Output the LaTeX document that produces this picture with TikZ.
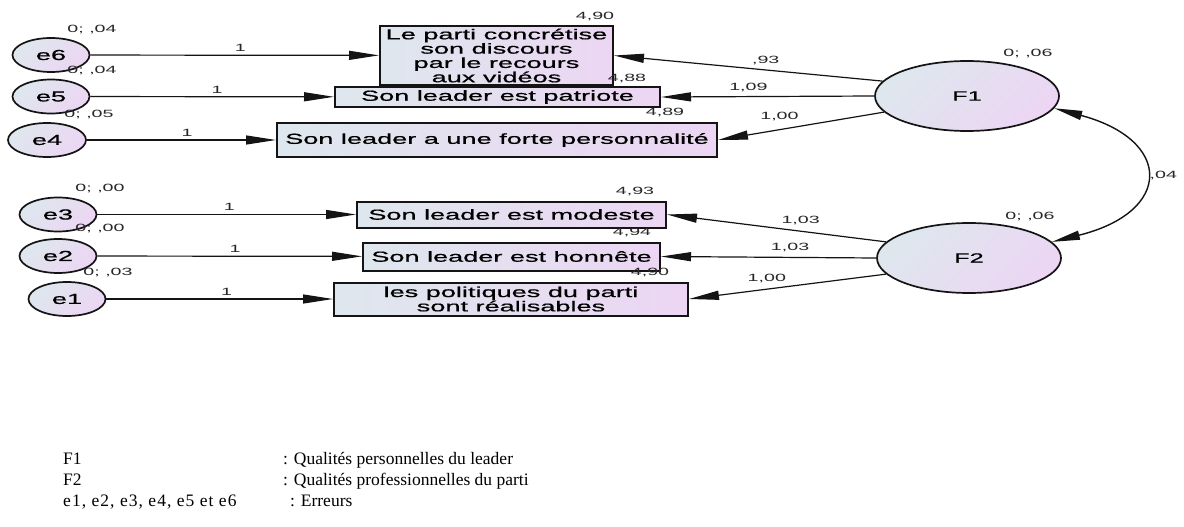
\documentclass[tikz,border=0pt]{standalone}
\usepackage{fontspec}
\setmainfont{Liberation Serif}
\newfontfamily\amosfont[FakeStretch=1.87]{Liberation Sans}
\newfontfamily\amosboxfont[FakeStretch=1.87,FakeBold=0.7]{Liberation Sans}
\usetikzlibrary{shapes.geometric,arrows.meta}

\definecolor{fillA}{RGB}{222,231,238}
\definecolor{fillB}{RGB}{236,214,243}
\definecolor{ink}{RGB}{20,20,20}
\definecolor{labelink}{RGB}{40,40,40}

\tikzset{
  obs/.style={rectangle, draw=ink, line width=2pt,
    left color=fillA, right color=fillB, inner sep=0pt, align=center,
    font=\amosboxfont\fontsize{14.5}{14.3}\selectfont},
  latent/.style={ellipse, draw=ink, line width=1.7pt,
    left color=fillA, right color=fillB, shading angle=45, inner sep=0pt,
    font=\amosboxfont\fontsize{13.5}{14}\selectfont},
  errnode/.style={latent, minimum width=77pt, minimum height=34pt,
    font=\amosboxfont\fontsize{14.5}{14.3}\selectfont},
  path/.style={draw=ink, line width=1.2pt, -{Triangle[length=30pt,width=9pt]}},
  covpath/.style={draw=ink, line width=1.4pt,
    {Triangle[length=28pt,width=9pt]}-{Triangle[length=28pt,width=9pt]}},
  coef/.style={font=\amosfont\fontsize{10.5}{12}\selectfont, inner sep=0pt, text=labelink},
  legend/.style={font=\fontsize{17.5}{20}\selectfont, inner sep=0pt, anchor=base west},
}

\begin{document}
\begin{tikzpicture}[x=1pt,y=-1pt]
\fill[white] (0,0) rectangle (1184,527);
\useasboundingbox (0,0) rectangle (1184,527);

% observed indicators
\node[obs, minimum width=233pt, minimum height=59pt] (b1) at (496.5,55.5)
  {Le parti concrétise\\son discours\\par le recours\\aux vidéos};
\node[obs, minimum width=325pt, minimum height=19pt] (b2) at (497.5,97) {Son leader est patriote};
\node[obs, minimum width=440pt, minimum height=34pt] (b3) at (497,140) {Son leader a une forte personnalité};
\node[obs, minimum width=309pt, minimum height=26pt] (b4) at (511.5,214.5) {Son leader est modeste};
\node[obs, minimum width=297pt, minimum height=28pt] (b5) at (511.5,256.5) {Son leader est honnête};
\node[obs, minimum width=354pt, minimum height=33pt] (b6) at (511,299) {les politiques du parti\\sont réalisables};

% error terms
\node[errnode] (e6) at (51,55) {e6};
\node[errnode] (e5) at (51,96.5) {e5};
\node[errnode, minimum width=78pt] (e4) at (47,140) {e4};
\node[errnode] (e3) at (58,214.5) {e3};
\node[errnode] (e2) at (58,256) {e2};
\node[errnode] (e1) at (67,299) {e1};

% latent factors
\node[latent, minimum width=184pt, minimum height=70pt] (F1) at (967,96) {F1};
\node[latent, minimum width=184pt, minimum height=70pt] (F2) at (969,258) {F2};

% error paths
\draw[path] (e6) -- node[coef, pos=0.52, above=3pt] (w6) {1} (b1);
\draw[path] (e5) -- node[coef, pos=0.52, above=3pt] (w5) {1} (b2);
\draw[path] (e4) -- node[coef, pos=0.53, above=3pt] (w4) {1} (b3);
\draw[path] (e3) -- node[coef, pos=0.51, above=3pt] (w3) {1} (b4);
\draw[path] (e2) -- node[coef, pos=0.52, above=3pt] (w2) {1} (b5);
\draw[path] (e1) -- node[coef, pos=0.53, above=3pt] (w1) {1} (b6);

% factor loadings
\draw[path] (F1.170) -- node[coef, pos=0.435, above=5pt] (l93) {,93} (b1.east);
\draw[path] (F1.west) -- node[coef, pos=0.59, above=4pt] (l109) {1,09} (b2.east);
\draw[path] (F1.191) -- node[coef, pos=0.63, above=8pt] (l100a) {1,00} (b3.east);
\draw[path] (F2.169) -- node[coef, pos=0.39, above=6pt] (l103a) {1,03} (b4.east);
\draw[path] (F2.west) -- node[coef, pos=0.40, above=5pt] (l103b) {1,03} (b5.east);
\draw[path] (F2.191) -- node[coef, pos=0.605, above=6pt] (l100b) {1,00} (b6.east);

% factor covariance
\draw[covpath] (F1.-8) .. controls (1173,140) and (1173,212) ..
  node[coef, pos=0.5, right=6pt] (cov) {,04} (F2.11);

% intercepts
\node[coef] (m1) at (595,17) {4,90};
\node[coef] (m2) at (627,79) {4,88};
\node[coef] (m3) at (665,113) {4,89};
\node[coef] (m4) at (635,192) {4,93};
\node[coef] (m5) at (632,233) {4,94};
\node[coef] (m6) at (650,273) {4,90};

% means and variances
\node[coef] (v6) at (92,30) {0; ,04};
\node[coef] (v5) at (92,71) {0; ,04};
\node[coef] (v4) at (89,115) {0; ,05};
\node[coef] (v3) at (100,189) {0; ,00};
\node[coef] (v2) at (100,229) {0; ,00};
\node[coef] (v1) at (108,273) {0; ,03};
\node[coef] (vF1) at (1028,54) {0; ,06};
\node[coef] (vF2) at (1030,217) {0; ,06};

% key
\node[legend] (k1) at (63,464) {F1};
\node[legend] (k1t) at (283,464) {: Qualités personnelles du leader};
\node[legend] (k2) at (63,485) {F2};
\node[legend] (k2t) at (283,485) {: Qualités professionnelles du parti};
\node[legend] (k3) at (63,506) {\addfontfeature{LetterSpace=6}e1, e2, e3, e4, e5 et e6};
\node[legend] (k3t) at (290,506) {: Erreurs};
\end{tikzpicture}
\end{document}
